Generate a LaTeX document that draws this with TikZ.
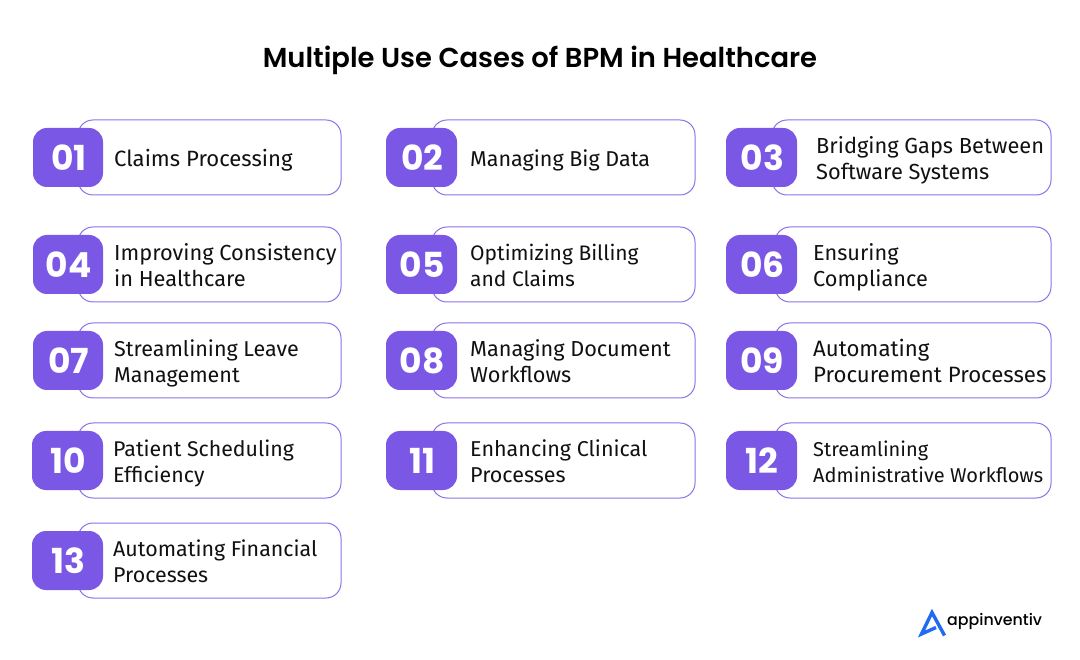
\documentclass[tikz,border=0pt]{standalone}
\usepackage{fontspec}
\setmainfont{Fira Sans}
\newfontfamily\titlefont{Poppins}[BoldFont={Poppins SemiBold}]
\newfontfamily\numfont{Poppins}
\newfontfamily\logofont{Poppins Medium}
\definecolor{pur}{HTML}{7B57E6}
\definecolor{purline}{HTML}{8E72EA}
\definecolor{logoblue}{HTML}{1F6BF2}
\definecolor{ink}{HTML}{111111}
\newcommand{\cardsize}{21.7}
\tikzset{
  cardbox/.style={draw=purline,line width=1pt,fill=white,rounded corners=15pt,anchor=north west,inner sep=0pt,outer sep=0pt},
  badge/.style={fill=pur,rounded corners=14pt,anchor=north west,inner sep=0pt,outer sep=0pt,text=white,font=\numfont\bfseries\fontsize{34.5}{34.5}\selectfont},
  cardtext/.style={anchor=west,align=left,inner sep=0pt,text=ink,font=\fontsize{\cardsize}{26}\selectfont},
}
\newcommand{\card}[9]{%
  % #1 id, #2 box x, #3 box w, #4 box y, #5 badge x, #6 badge w, #7 number, #8 text x, #9 text
  \node[cardbox,minimum width=#3pt,minimum height=75pt] (box#1) at (#2,#4) {};
  \node[badge,minimum width=#6pt,minimum height=59pt,text depth=0pt] (num#1) at (#5,#4+8) {\hspace{1.5pt}#7};
  \node[cardtext] (txt#1) at (#8,#4+41) {\strut #9\strut};
}
\begin{document}
\begin{tikzpicture}[x=1pt,y=-1pt]
\useasboundingbox (0,0) rectangle (1080,660);
\fill[white] (0,0) rectangle (1080,660);
\node[font=\titlefont\bfseries\fontsize{27.4}{32}\selectfont,text=black,inner sep=0pt] (title) at (540,60) {Multiple Use Cases of BPM in Healthcare};
\renewcommand{\cardsize}{22.1}
\card{1}{78}{263}{120}{33}{70}{01}{114}{Claims Processing}
\renewcommand{\cardsize}{21.5}
\card{2}{432}{263}{120}{386}{71}{02}{470}{Managing Big Data}
\renewcommand{\cardsize}{21.8}
\card{3}{772}{279}{120}{726}{71}{03}{816}{Bridging Gaps Between\\Software Systems}
\card{4}{78}{263}{227}{33}{70}{04}{114}{Improving Consistency\\in Healthcare}
\renewcommand{\cardsize}{21}
\card{5}{432}{263}{227}{386}{71}{05}{470}{Optimizing Billing\\and Claims}
\renewcommand{\cardsize}{21.7}
\card{6}{775}{276}{227}{726}{71}{06}{813}{Ensuring\\Compliance}
\renewcommand{\cardsize}{21.5}
\card{7}{78}{263}{323}{33}{70}{07}{114}{Streamlining Leave\\Management}
\renewcommand{\cardsize}{21.7}
\card{8}{432}{263}{323}{386}{71}{08}{470}{Managing Document\\Workflows}
\renewcommand{\cardsize}{22.2}
\card{9}{775}{276}{323}{726}{71}{09}{813}{Automating\\Procurement Processes}
\renewcommand{\cardsize}{21.3}
\card{10}{78}{263}{423}{32}{71}{10}{113}{Patient Scheduling\\Efficiency}
\renewcommand{\cardsize}{21.5}
\card{11}{432}{263}{423}{386}{71}{11}{470}{Enhancing Clinical\\Processes}
\renewcommand{\cardsize}{20}
\card{12}{775}{276}{423}{726}{71}{12}{813}{Streamlining\\Administrative Workflows}
\renewcommand{\cardsize}{21.4}
\card{13}{78}{263}{523}{32}{71}{13}{113}{Automating Financial\\Processes}
% logo
\draw[logoblue,line width=3.4pt,line join=miter,line cap=butt] (944.5,635.5) -- (932,612.5) -- (921.5,634) -- (936,627.5);
\node[font=\logofont\fontsize{15.8}{20}\selectfont,text=black,anchor=west,inner sep=0pt] (logo) at (947,621) {appinventiv};
\end{tikzpicture}
\end{document}
